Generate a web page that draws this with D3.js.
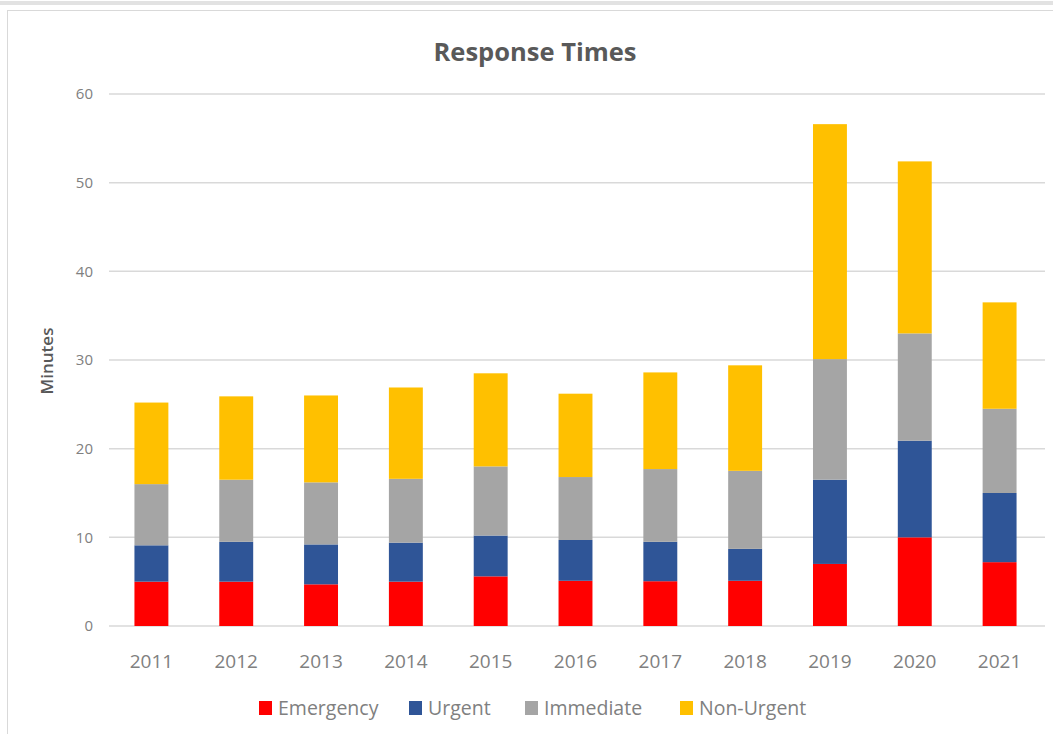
<!DOCTYPE html>
<html>
<head>
<meta charset="utf-8">
<script src="https://cdn.jsdelivr.net/npm/d3@7"></script>
<style>
  body { margin: 0; background: #fff; }
  svg { display: block; font-family: "Open Sans", Lato, sans-serif; }
</style>
</head>
<body>
<svg id="chart" width="1053" height="734"></svg>
<script>
/* Response Times — stacked column chart, minutes per year */
var years = ["2011", "2012", "2013", "2014", "2015", "2016", "2017", "2018", "2019", "2020", "2021"];
var seriesNames = ["Emergency", "Urgent", "Immediate", "Non-Urgent"];
var emergency = [5.0, 5.0, 4.7, 5.0, 5.6, 5.1, 5.05, 5.1, 7.0, 10.0, 7.2];
var urgent = [4.1, 4.5, 4.5, 4.4, 4.6, 4.6, 4.45, 3.6, 9.5, 10.9, 7.8];
var immediate = [6.9, 7.0, 7.0, 7.2, 7.8, 7.1, 8.2, 8.8, 13.6, 12.1, 9.5];
var nonUrgent = [9.2, 9.4, 9.8, 10.3, 10.5, 9.4, 10.9, 11.9, 26.5, 19.4, 12.0];
var yTicks = [0, 10, 20, 30, 40, 50, 60];

var colors = ["#ff0000", "#2f5597", "#a5a5a5", "#ffc000"];

(function () {
  var svg = d3.select("#chart");
  var margin = { left: 109, right: 1042, top: 94, bottom: 626 };

  // chart frame
  svg.append("line").attr("x1", 0).attr("x2", 1053).attr("y1", 3).attr("y2", 3)
    .attr("stroke", "#e2e2e2").attr("stroke-width", 4);
  svg.append("rect").attr("x", 7.5).attr("y", 10.5).attr("width", 1060).attr("height", 740)
    .attr("fill", "#fff").attr("stroke", "#d9d9d9");

  // build table for stack
  var table = years.map(function (y, i) {
    return {
      year: y,
      "Emergency": emergency[i],
      "Urgent": urgent[i],
      "Immediate": immediate[i],
      "Non-Urgent": nonUrgent[i]
    };
  });
  var stacked = d3.stack().keys(seriesNames)(table);

  var x = d3.scaleBand().domain(years).range([margin.left, margin.right]).paddingInner(0.6).paddingOuter(0.3);
  var y = d3.scaleLinear().domain([0, 60]).range([margin.bottom, margin.top]);

  // gridlines
  svg.append("g").selectAll("line").data(yTicks).join("line")
    .attr("x1", margin.left).attr("x2", 1045)
    .attr("y1", function (d) { return y(d); })
    .attr("y2", function (d) { return y(d); })
    .attr("stroke", "#d9d9d9").attr("stroke-width", 1.5);

  // y tick labels
  svg.append("g").selectAll("text").data(yTicks).join("text")
    .attr("x", 93).attr("y", function (d) { return y(d); })
    .attr("dy", "0.35em").attr("text-anchor", "end")
    .attr("font-size", 15).attr("fill", "#808080")
    .text(function (d) { return d; });

  // bars
  svg.append("g").selectAll("g").data(stacked).join("g")
    .attr("fill", function (d, i) { return colors[i]; })
    .selectAll("rect").data(function (d) { return d; }).join("rect")
    .attr("x", function (d) { return x(d.data.year); })
    .attr("width", x.bandwidth())
    .attr("y", function (d) { return y(d[1]); })
    .attr("height", function (d) { return y(d[0]) - y(d[1]); });

  // x labels
  svg.append("g").selectAll("text").data(years).join("text")
    .attr("x", function (d) { return x(d) + x.bandwidth() / 2; })
    .attr("y", 661).attr("dy", "0.35em").attr("text-anchor", "middle")
    .attr("font-size", 19).attr("fill", "#808080")
    .text(function (d) { return d; });

  // title
  svg.append("text").attr("x", 535).attr("y", 52).attr("dy", "0.35em")
    .attr("text-anchor", "middle").attr("font-size", 25.5).attr("font-weight", "bold")
    .attr("fill", "#595959").text("Response Times");

  // y axis title
  svg.append("text").attr("transform", "translate(47,361) rotate(-90)")
    .attr("dy", "0.35em").attr("text-anchor", "middle")
    .attr("font-size", 17).attr("font-weight", 600).attr("fill", "#595959").text("Minutes");

  // legend
  var legendX = [259, 409, 525, 680];
  var leg = svg.append("g").selectAll("g").data(seriesNames).join("g")
    .attr("transform", function (d, i) { return "translate(" + legendX[i] + ",708)"; });
  leg.append("rect").attr("x", 0).attr("y", -7).attr("width", 13).attr("height", 14)
    .attr("fill", function (d, i) { return colors[i]; });
  leg.append("text").attr("x", 19).attr("dy", "0.35em")
    .attr("font-size", 19.5).attr("fill", "#808080")
    .text(function (d) { return d; });
})();
</script>
</body>
</html>
